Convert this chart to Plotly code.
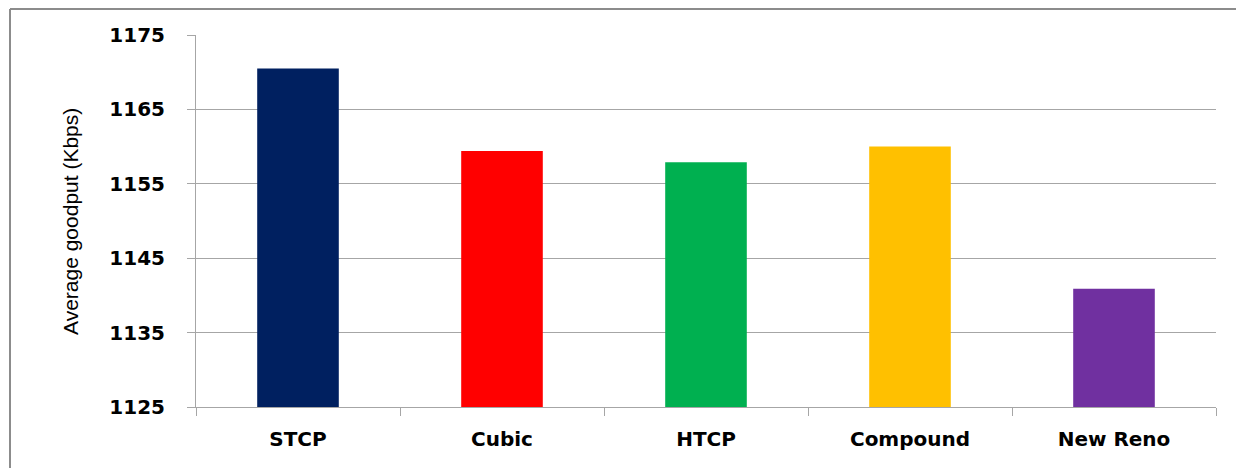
import plotly.graph_objects as go

categories = ["STCP", "Cubic", "HTCP", "Compound", "New Reno"]
goodput = [1170.5, 1159.4, 1157.9, 1160.0, 1140.9]
bar_colors = ["#002060", "#FF0000", "#00B050", "#FFC000", "#7030A0"]
y_ticks = [1125, 1135, 1145, 1155, 1165, 1175]
y_title = "Average goodput (Kbps)"

# the page body adds an 8px offset; compensate so that the plot lands at
# x 196..1216, y 35..407 in the 1244x468 window
OFF = 8
W, H = 1244 - OFF, 468 - OFF
L, R, T, B = 196 - OFF, 28, 35 - OFF, 61
pw, ph = W - L - R, H - T - B

def px_x(x):
    return (x - OFF - L) / pw

def px_y(y):
    return (H - B - (y - OFF)) / ph

grid = "#a6a6a6"
tick_font = dict(family="DejaVu Sans", size=20, color="#000000", weight="bold")

fig = go.Figure(
    go.Bar(
        x=categories,
        y=goodput,
        marker=dict(color=bar_colors, line=dict(width=0)),
        width=0.4,
    )
)

fig.update_layout(
    width=W,
    height=H,
    margin=dict(l=L, r=R, t=T, b=B),
    paper_bgcolor="white",
    plot_bgcolor="white",
    showlegend=False,
    bargap=0.6,
)

fig.update_yaxes(
    range=[1125, 1175],
    tickvals=y_ticks,
    ticktext=[str(v) for v in y_ticks],
    showgrid=True,
    gridcolor=grid,
    gridwidth=1,
    showline=True,
    linecolor=grid,
    linewidth=1,
    ticks="outside",
    ticklen=8,
    tickcolor=grid,
    tickfont=tick_font,
    ticklabelstandoff=18,
    zeroline=False,
)

fig.update_xaxes(
    showline=True,
    linecolor=grid,
    linewidth=1,
    ticks="outside",
    tickson="boundaries",
    ticklen=8,
    tickcolor=grid,
    tickfont=tick_font,
    ticklabelstandoff=14,
    showgrid=False,
)

fig.add_annotation(
    text=y_title,
    xref="paper", yref="paper",
    x=px_x(70), y=px_y(222),
    xanchor="center", yanchor="middle",
    textangle=-90,
    showarrow=False,
    font=dict(family="Liberation Sans", size=21, color="#000000"),
)

border = "#8c8c8c"
fig.add_shape(type="line", xref="paper", yref="paper",
              x0=px_x(10), x1=px_x(1260), y0=px_y(9), y1=px_y(9),
              line=dict(color=border, width=2))
fig.add_shape(type="line", xref="paper", yref="paper",
              x0=px_x(10), x1=px_x(10), y0=px_y(9), y1=px_y(480),
              line=dict(color=border, width=2))

fig.write_html("out.html")
